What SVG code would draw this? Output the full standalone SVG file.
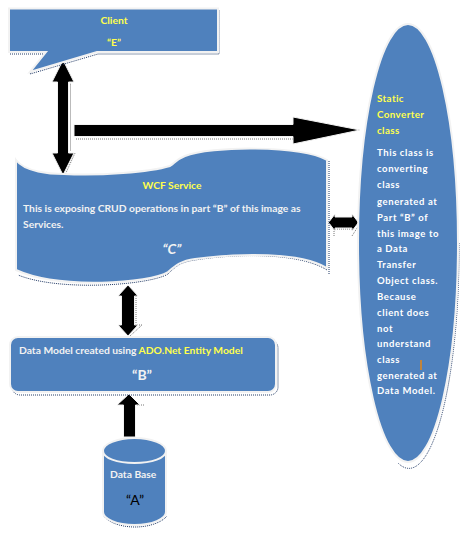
<svg xmlns="http://www.w3.org/2000/svg" width="465" height="534" viewBox="0 0 465 534">
<style>
.f{fill:#4f81bd;stroke:#f2f2f2;stroke-width:2}
.s{fill:none;stroke:#1f3864;stroke-width:1;stroke-dasharray:1 1}
.a{fill:#000;stroke:#f2f2f2;stroke-width:1}
.as{fill:none;stroke:#777;stroke-width:1;stroke-dasharray:1 1}
text{font-family:"Lato","Liberation Sans",sans-serif;font-weight:700;font-size:10.300px;fill:#f2f2f2}
.y{fill:#ffff4d}
.m{text-anchor:middle}
.q{font-size:14px}
.e text{letter-spacing:.6px;font-weight:700;font-size:9.500px;fill:#fff}
.e text.y{font-weight:700;letter-spacing:.4px;font-size:9.800px;fill:#ffff4d}
</style>
<rect width="465" height="534" fill="#fff"/>
<g id="connectors">
<path class="as" d="M71 84H70.500V151M75 153L65 175M76 139H293"/>
<path class="a" d="M63 60L74 82H68.500V153H74L63 175L52 153H57.500V82H52Z"/>
<path class="a" d="M74 124.500H293V117L360 130L293 144V136.500H74Z"/>
<path class="as" d="M334 236V229H352M359 225L352 236"/>
<path class="a" d="M328.500 222.500L335 214V217H352V214L358.500 222.500L352 231V228H335V231Z"/>
<path class="as" d="M136 296V325H142L130 336"/>
<path class="a" d="M128 285L138 296H134.500V325H138L128 336L118 325H121.500V296H118Z"/>
<path class="as" d="M137 405H144"/>
<path class="a" d="M129 394L140 405H135.500V437H123.500V405H117Z"/>
</g>
<g id="client">
<path class="s" d="M10 54H46L30 74L98 54H219V10"/>
<path class="f" d="M9 8.500H218V52H97L30 72L46 52H9Z"/>
<text class="y m" x="114" y="24">Client</text>
<text class="y m" x="114" y="46">“E”</text>
</g>
<g id="wcf-service">
<path class="s" d="M329 161V274M327 270C300 253 240 253 195 260C180 262 175 267 168 274C150 285 60 292 18 275"/>
<path class="f" d="M16 160C25 172 50 174 64 174C100 176 150 172 170 166C175 163 175 160 185 156C210 146 300 145 327 160V268C300 252 240 253 195 259C180 261 175 266 168 272C150 283 60 290 16 270Z"/>
<text class="y m" x="172" y="189">WCF Service</text>
<text x="23" y="212">This is exposing CRUD operations in part “B”  of this image as</text>
<text x="23" y="228">Services.</text>
<text class="m q" x="172" y="254" font-style="italic">“C”</text>
</g>
<g id="data-model">
<rect x="12" y="340" width="266" height="55" rx="8" class="s"/>
<rect x="10" y="337" width="266" height="55" rx="8" class="f"/>
<text x="19" y="354">Data Model created using <tspan class="y">ADO.Net Entity Model</tspan></text>
<text class="m q" x="142" y="380">“B”</text>
</g>
<g id="database">
<path class="s" d="M104 516C108 522 120 527 135 527C150 527 162 522 167 516"/>
<path class="f" d="M103 451C103 444 117 438 134.500 438C152 438 166 444 166 451V512C166 519 152 525 134.500 525C117 525 103 519 103 512Z"/>
<path d="M103 451C103 458 117 463 134.500 463C152 463 166 458 166 451" fill="none" stroke="#f2f2f2" stroke-width="2"/>
<text x="110" y="478">Data Base</text>
<text class="m q" x="135" y="505" style="fill:#000;font-weight:400">“A”</text>
</g>
<g id="static-converter" class="e">
<path class="s" d="M459 243A50 219 0 0 1 398 463"/>
<ellipse class="f" cx="408" cy="243" rx="50" ry="219"/>
<text class="y" x="377" y="102">Static</text>
<text class="y" x="377" y="118">Converter</text>
<text class="y" x="377" y="134">class</text>
<text x="377" y="156">This class is</text>
<text x="377" y="172">converting</text>
<text x="377" y="188">class</text>
<text x="377" y="205">generated at</text>
<text x="377" y="221">Part “B” of</text>
<text x="377" y="237">this image to</text>
<text x="377" y="252">a Data</text>
<text x="377" y="268">Transfer</text>
<text x="377" y="284">Object class.</text>
<text x="377" y="300">Because</text>
<text x="377" y="316">client does</text>
<text x="377" y="332">not</text>
<text x="377" y="347">understand</text>
<text x="377" y="363">class</text>
<text x="377" y="379">generated at</text>
<text x="377" y="394">Data Model.</text>
<rect x="420" y="360" width="2" height="10" fill="#c0843c"/>
</g>
</svg>
